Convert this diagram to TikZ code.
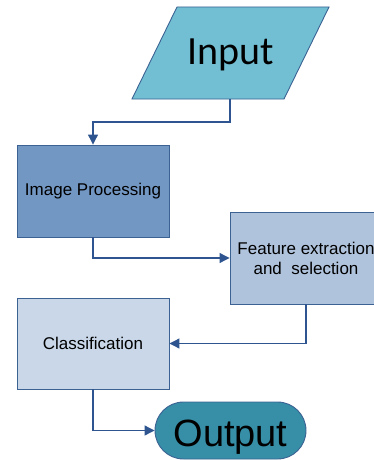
\documentclass[tikz,border=0pt]{standalone}
\usepackage{fontspec}
\setmainfont{Liberation Sans}
\newfontfamily\inputfont{Carlito}
\usetikzlibrary{arrows.meta,shapes.misc}
\definecolor{inpfill}{HTML}{72BFD4}
\definecolor{ipfill}{HTML}{7397C3}
\definecolor{fefill}{HTML}{B0C3DC}
\definecolor{clfill}{HTML}{C9D7E8}
\definecolor{outfill}{HTML}{368FA7}
\definecolor{edge}{HTML}{3B6293}
\definecolor{conn}{HTML}{2E5590}
\tikzset{
  procbox/.style={draw=edge, line width=0.9pt, minimum width=152pt, minimum height=92pt, inner sep=0pt, align=center, font=\fontsize{17}{20}\selectfont},
  flowline/.style={draw=conn, line width=1.1pt, -{Triangle[length=10pt,width=10pt]}},
}
\begin{document}
\begin{tikzpicture}[x=1pt,y=-1pt]
\useasboundingbox (0,0) rectangle (374,460);
\clip (0,0) rectangle (374,460);
% Input parallelogram
\draw[draw=edge, line width=0.9pt, fill=inpfill] (132,99) -- (177,7) -- (329,7) -- (284,99) -- cycle;
\node[font=\inputfont\fontsize{40}{44}\selectfont] (input) at (230.5,54.5) {Input};
\coordinate (inputbot) at (230,99);
% boxes
\node[procbox, fill=ipfill] (improc) at (93,191) {Image Processing};
\node[procbox, fill=fefill] (feat) at (306,258) {Feature extraction\\and\ \ selection};
\node[procbox, fill=clfill, minimum height=91pt] (classif) at (93,343.5) {Classification};
\node[draw=edge, line width=0.9pt, fill=outfill, rounded rectangle, minimum width=151pt, minimum height=57pt, inner sep=0pt, font=\fontsize{38}{40}\selectfont] (output) at (230.5,430.5) {\raisebox{-3pt}[\height][0pt]{Output}};
% connectors
\draw[flowline] (inputbot) -- (230,122) -| (improc.north);
\draw[flowline] (improc.south) |- (feat.west);
\draw[flowline] (feat.south) |- (classif.east);
\draw[flowline] (classif.south) |- (output.west);
\end{tikzpicture}
\end{document}
